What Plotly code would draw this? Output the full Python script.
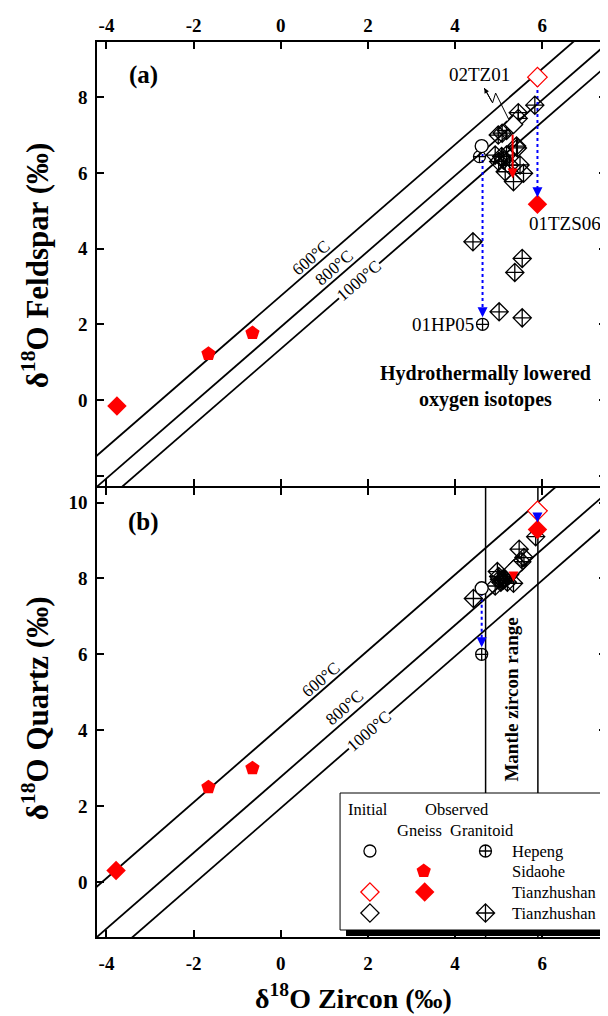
import plotly.graph_objects as go

FONT = "Liberation Serif"

# ---------------- data ----------------
x_ticks = [-4, -2, 0, 2, 4, 6]
x_ticktext = ["-4", "-2", "0", "2", "4", "6"]
ya_ticks = [-2, 0, 2, 4, 6, 8]
ya_ticktext = ["", "0", "2", "4", "6", "8"]
yb_ticks = [0, 2, 4, 6, 8, 10]
yb_ticktext = ["0", "2", "4", "6", "8", "10"]

temps = ["600°C", "800°C", "1000°C"]
fsp_offsets = [2.75, 1.93, 1.35]     # feldspar - zircon fractionation
qtz_offsets = [4.10, 2.77, 1.95]     # quartz - zircon fractionation
label_x_a = [0.84, 1.38, 1.80]       # where the temperature labels sit (panel a)
label_x_b = [1.06, 1.62, 2.02]       # (panel b)
mantle_range = [4.7, 5.9]

# Sidaohe gneiss (observed)
sid_zrc = [-1.66, -0.65]
sid_fsp = [1.22, 1.77]
sid_qtz = [2.50, 3.00]

# Tianzhushan gneiss, observed (filled red diamond)
tzg_obs_zrc_a = [-3.76, 5.89]
tzg_obs_fsp = [-0.16, 5.17]
tzg_obs_zrc_b = [-3.78, 5.89]
tzg_obs_qtz = [0.30, 9.29]
# Tianzhushan gneiss, initial (open red diamond)
tzg_ini_zrc = [5.89]
tzg_ini_fsp = [8.53]
tzg_ini_qtz = [9.78]

# Hepeng initial (open circle) / observed (circle cross)
hp_ini_zrc = [4.61]
hp_ini_fsp = [6.71]
hp_ini_qtz = [7.74]
hp_obs_zrc_a = [4.56, 4.63]
hp_obs_fsp = [6.43, 2.00]
hp_obs_zrc_b = [4.61]
hp_obs_qtz = [6.00]

# Tianzhushan granitoid initial (02TZ01, open black diamond)
tzr_ini_zrc_a = [5.34]
tzr_ini_fsp = [7.28]
tzr_ini_zrc_b = [5.34]
tzr_ini_qtz = [8.24]

# Tianzhushan granitoid observed (diamond cross)
tzr_obs_zrc_a = [5.83, 5.45, 5.45, 5.18, 4.99, 5.08, 5.41, 5.43, 4.92, 5.07, 5.18, 5.11,
                 5.00, 5.15, 5.49, 5.57, 5.34, 5.25, 4.41, 5.54, 5.37, 5.01, 5.54]
tzr_obs_fsp = [7.79, 7.59, 7.44, 7.12, 7.00, 7.05, 6.71, 6.66, 6.47, 6.43, 6.47, 6.34,
               6.30, 6.03, 6.21, 5.99, 5.77, 6.20, 4.18, 3.74, 3.37, 2.33, 2.17]
tzr_obs_zrc_b = [5.85, 5.47, 5.58, 5.53, 5.44, 4.97, 5.00, 5.10, 5.15, 5.20, 5.05, 5.20,
                 5.11, 5.34, 4.92, 4.42, 5.25, 5.02]
tzr_obs_qtz = [9.10, 8.77, 8.55, 8.44, 8.35, 8.18, 8.05, 7.95, 8.00, 7.90, 7.90, 8.05,
               8.00, 7.87, 7.80, 7.47, 8.10, 7.98]

# arrows: (x, y_start, y_end)
blue_arrows_a = [(5.89, 8.35, 5.17), (4.63, 6.50, 2.00)]
blue_arrows_b = [(5.89, 9.72, 9.29), (4.61, 7.62, 6.00)]
red_arrow_a = (5.32, 7.05, 5.85)
red_arrow_b = (5.34, 8.15, 7.92)
zigzag_x = [5.25, 4.93, 4.86, 4.67]
zigzag_y = [7.37, 8.11, 7.85, 8.24]

# ---------------- geometry (reference-page pixels) ----------------
# page body has an 8 px margin: the figure is drawn from (8, 8)
OFF = 8
W, H = 600, 1008
ML, MR, MT, MB = 89, 0, 34, 79
PW, PH = W - ML - MR, H - MT - MB

X_LEFT, X_RIGHT = 97, 608            # plot area, reference pixels
X0_PX, X_PER = 281.5, 43.75          # pixel of x=0, pixels per unit
A_TOP, A_BOT = 42, 486.2             # panel a
B_TOP, B_BOT = 487.8, 937            # panel b
A_Y0, A_PER = 400.0, 37.85
B_Y0, B_PER = 882.0, 37.95

x_range = [(X_LEFT - X0_PX) / X_PER, (X_RIGHT - X0_PX) / X_PER]
ya_range = [(A_Y0 - A_BOT) / A_PER, (A_Y0 - A_TOP) / A_PER]
yb_range = [(B_Y0 - B_BOT) / B_PER, (B_Y0 - B_TOP) / B_PER]


def px_x(p):          # reference-page pixel -> paper fraction
    return (p - OFF - ML) / PW


def px_y(p):
    return (H - MB - (p - OFF)) / PH


fig = go.Figure()

line_style = dict(color="black", width=1.8)
for off in fsp_offsets:
    fig.add_trace(go.Scatter(x=[-6, 10], y=[-6 + off, 10 + off], mode="lines",
                             line=line_style, xaxis="x", yaxis="y", hoverinfo="skip"))
for off in qtz_offsets:
    fig.add_trace(go.Scatter(x=[-6, 10], y=[-6 + off, 10 + off], mode="lines",
                             line=line_style, xaxis="x2", yaxis="y2", hoverinfo="skip"))
for mx in mantle_range:
    fig.add_trace(go.Scatter(x=[mx, mx], y=[-3, 12], mode="lines",
                             line=dict(color="black", width=1.5), xaxis="x2", yaxis="y2"))


def dotted(ax_x, ax_y, arrows, color):
    for (x, y0, y1) in arrows:
        fig.add_trace(go.Scatter(x=[x, x], y=[y0, y1 + 0.35], mode="lines",
                                 line=dict(color=color, width=2, dash="dot"),
                                 xaxis=ax_x, yaxis=ax_y))


dotted("x", "y", blue_arrows_a, "#0000ff")
dotted("x2", "y2", blue_arrows_b, "#0000ff")

fig.add_trace(go.Scatter(x=zigzag_x, y=zigzag_y, mode="lines",
                         line=dict(color="black", width=1), xaxis="x", yaxis="y"))

BLK = "black"
RED = "#ff0000"


def pts(x, y, ax_x, ax_y, symbol, color, size, lw=1.3, fill=None):
    fig.add_trace(go.Scatter(
        x=x, y=y, mode="markers", xaxis=ax_x, yaxis=ax_y,
        marker=dict(symbol=symbol, size=size, color=fill if fill else color,
                    line=dict(color=color, width=lw))))


# panel a
pts(tzr_obs_zrc_a, tzr_obs_fsp, "x", "y", "diamond-cross-open", BLK, 14)
pts(tzr_ini_zrc_a, tzr_ini_fsp, "x", "y", "diamond", BLK, 14, fill="white")
pts(hp_obs_zrc_a, hp_obs_fsp, "x", "y", "circle-cross-open", BLK, 12)
pts(hp_ini_zrc, hp_ini_fsp, "x", "y", "circle", BLK, 13, fill="white")
pts(sid_zrc, sid_fsp, "x", "y", "pentagon", RED, 15, lw=0, fill=RED)
pts(tzg_obs_zrc_a, tzg_obs_fsp, "x", "y", "diamond", RED, 15, lw=0, fill=RED)
pts(tzg_ini_zrc, tzg_ini_fsp, "x", "y", "diamond", RED, 15, fill="white")
# panel b
pts(tzr_obs_zrc_b, tzr_obs_qtz, "x2", "y2", "diamond-cross-open", BLK, 14)
pts(tzr_ini_zrc_b, tzr_ini_qtz, "x2", "y2", "diamond", BLK, 14, fill="white")
pts(hp_obs_zrc_b, hp_obs_qtz, "x2", "y2", "circle-cross-open", BLK, 12)
pts(hp_ini_zrc, hp_ini_qtz, "x2", "y2", "circle", BLK, 13, fill="white")
pts(sid_zrc, sid_qtz, "x2", "y2", "pentagon", RED, 15, lw=0, fill=RED)
pts(tzg_obs_zrc_b, tzg_obs_qtz, "x2", "y2", "diamond", RED, 15, lw=0, fill=RED)
pts(tzg_ini_zrc, tzg_ini_qtz, "x2", "y2", "diamond", RED, 15, fill="white")

# ---------------- legend (own overlay axes in reference-pixel units) ----------------
leg_box_x = [341, 612, 612, 341, 341]
leg_box_y = [793, 793, 930, 930, 793]
leg_shadow_x = [347, 616, 616, 347, 347]
leg_shadow_y = [799, 799, 936, 936, 799]
fig.add_trace(go.Scatter(x=leg_shadow_x, y=leg_shadow_y, mode="lines", fill="toself",
                         fillcolor="black", line=dict(color="black", width=0),
                         xaxis="x3", yaxis="y3"))
fig.add_trace(go.Scatter(x=leg_box_x, y=leg_box_y, mode="lines", fill="toself",
                         fillcolor="white", line=dict(color="black", width=1),
                         xaxis="x3", yaxis="y3"))
leg_sym = [
    (371, 851, "circle", BLK, "white", 12),
    (487, 851, "circle-cross-open", BLK, None, 12),
    (425, 871, "pentagon", RED, RED, 15),
    (371, 892, "diamond", RED, "white", 14),
    (426, 892, "diamond", RED, RED, 15),
    (371, 913, "diamond", BLK, "white", 14),
    (487, 913, "diamond-cross-open", BLK, None, 14),
]
for (lx, ly, sym, col, fill, sz) in leg_sym:
    fig.add_trace(go.Scatter(
        x=[lx], y=[ly], mode="markers", xaxis="x3", yaxis="y3",
        marker=dict(symbol=sym, size=sz, color=fill if fill else col,
                    line=dict(color=col, width=0 if fill == col else 1.3))))

leg_text = [
    ("Initial", 369, 809, "center"), ("Observed", 458, 809, "center"),
    ("Gneiss", 421, 830, "center"), ("Granitoid", 484, 830, "center"),
    ("Hepeng", 512, 851, "left"), ("Sidaohe", 512, 871, "left"),
    ("Tianzhushan", 512, 892, "left"), ("Tianzhushan", 512, 913, "left"),
]

annotations = []
for (t, lx, ly, anc) in leg_text:
    annotations.append(dict(text=t, x=lx, y=ly, xref="x3", yref="y3", showarrow=False,
                            xanchor=anc, yanchor="middle",
                            font=dict(family=FONT, size=16.5, color="black")))

# temperature labels
ang = -40.9
for (xr, yr, offs, lxs) in (("x", "y", fsp_offsets, label_x_a),
                            ("x2", "y2", qtz_offsets, label_x_b)):
    for i, t in enumerate(temps):
        xx = lxs[i]
        yy = xx + offs[i]
        shift = [9, 10, 0][i]
        annotations.append(dict(
            text=t, x=xx, y=yy, xref=xr, yref=yr, showarrow=False, textangle=ang,
            xanchor="center", yanchor="middle",
            xshift=-shift * 0.655, yshift=shift * 0.756,
            bgcolor="white" if i == 2 else None, borderpad=0,
            font=dict(family=FONT, size=17, color="black")))

# arrow heads
for (xr, yr, arrows) in (("x", "y", blue_arrows_a), ("x2", "y2", blue_arrows_b)):
    for (x, y0, y1) in arrows:
        annotations.append(dict(x=x, y=y1, ax=x, ay=y1 + 0.45, xref=xr, yref=yr,
                                axref=xr, ayref=yr, showarrow=True, arrowhead=2,
                                arrowsize=1, arrowwidth=2, arrowcolor="#0000ff",
                                standoff=7, text=""))
for (xr, yr, (x, y0, y1)) in (("x", "y", red_arrow_a), ("x2", "y2", red_arrow_b)):
    annotations.append(dict(x=x, y=y1, ax=x, ay=y0, xref=xr, yref=yr, axref=xr, ayref=yr,
                            showarrow=True, arrowhead=2, arrowsize=1, arrowwidth=2,
                            arrowcolor=RED, standoff=0, text=""))
annotations.append(dict(x=zigzag_x[-1], y=zigzag_y[-1], ax=zigzag_x[-2], ay=zigzag_y[-2],
                        xref="x", yref="y", axref="x", ayref="y", showarrow=True,
                        arrowhead=2, arrowsize=1, arrowwidth=1, arrowcolor="black",
                        standoff=0, text=""))

# sample labels
sample_labels = [("02TZ01", 4.57, 8.59, "center"), ("01TZS06", 6.52, 4.67, "center"),
                 ("01HP05", 4.47, 2.00, "right")]
for (t, x, y, anc) in sample_labels:
    annotations.append(dict(text=t, x=x, y=y, xref="x", yref="y", showarrow=False,
                            xanchor=anc, yanchor="middle",
                            font=dict(family=FONT, size=19, color="black")))

annotations.append(dict(text="<b>Hydrothermally lowered<br>oxygen isotopes</b>",
                        x=4.69, y=0.37, xref="x", yref="y", showarrow=False,
                        xanchor="center", yanchor="middle",
                        font=dict(family=FONT, size=20, color="black")))
annotations.append(dict(text="<b>(a)</b>", x=-3.16, y=8.59, xref="x", yref="y",
                        showarrow=False, xanchor="center", yanchor="middle",
                        font=dict(family=FONT, size=25, color="black")))
annotations.append(dict(text="<b>(b)</b>", x=-3.16, y=9.49, xref="x2", yref="y2",
                        showarrow=False, xanchor="center", yanchor="middle",
                        font=dict(family=FONT, size=25, color="black")))
annotations.append(dict(text="<b>Mantle zircon range</b>", x=sum(mantle_range) / 2, y=4.8,
                        xref="x2", yref="y2", showarrow=False, textangle=-90,
                        xanchor="center", yanchor="middle",
                        font=dict(family=FONT, size=19, color="black")))

# axis titles
annotations.append(dict(text="<b>δ<sup>18</sup>O Zircon (‰)</b>", x=px_x(355), y=px_y(997),
                        xref="paper", yref="paper", showarrow=False,
                        xanchor="center", yanchor="middle",
                        font=dict(family=FONT, size=28, color="black")))
annotations.append(dict(text="<b>δ<sup>18</sup>O Feldspar (‰)</b>", x=px_x(35), y=px_y(265),
                        xref="paper", yref="paper", showarrow=False, textangle=-90,
                        xanchor="center", yanchor="middle",
                        font=dict(family=FONT, size=31, color="black")))
annotations.append(dict(text="<b>δ<sup>18</sup>O Quartz (‰)</b>", x=px_x(35), y=px_y(708),
                        xref="paper", yref="paper", showarrow=False, textangle=-90,
                        xanchor="center", yanchor="middle",
                        font=dict(family=FONT, size=31, color="black")))


def bold(lst):
    return ["<b>%s</b>" % t if t else "" for t in lst]


tickfont = dict(family=FONT, size=19, color="black")
axis_common = dict(showgrid=False, zeroline=False, showline=True, linecolor="black",
                   linewidth=1.6, ticks="inside", ticklen=7, tickwidth=1.6,
                   tickcolor="black", mirror="ticks", tickfont=tickfont)

fig.update_layout(
    width=W, height=H, margin=dict(l=ML, r=MR, t=MT, b=MB, pad=0),
    paper_bgcolor="white", plot_bgcolor="rgba(0,0,0,0)", showlegend=False,
    xaxis=dict(domain=[0, 1], anchor="y", side="top", range=x_range, tickvals=x_ticks,
               ticktext=bold(x_ticktext), ticklabelstandoff=1, **axis_common),
    yaxis=dict(domain=[px_y(A_BOT), px_y(A_TOP)], anchor="x", range=ya_range,
               tickvals=ya_ticks, ticktext=bold(ya_ticktext), ticklabelstandoff=4,
               **axis_common),
    xaxis2=dict(domain=[0, 1], anchor="y2", side="bottom", range=x_range,
                tickvals=x_ticks, ticktext=bold(x_ticktext), ticklabelstandoff=8,
                **axis_common),
    yaxis2=dict(domain=[px_y(B_BOT), px_y(B_TOP)], anchor="x2", range=yb_range,
                tickvals=yb_ticks, ticktext=bold(yb_ticktext), ticklabelstandoff=4,
                **axis_common),
    xaxis3=dict(domain=[px_x(335), 1], anchor="y3", range=[335, 608], visible=False),
    yaxis3=dict(domain=[0, px_y(785)], anchor="x3", range=[937, 785], visible=False),
    annotations=annotations,
)

fig.write_html("out.html")
